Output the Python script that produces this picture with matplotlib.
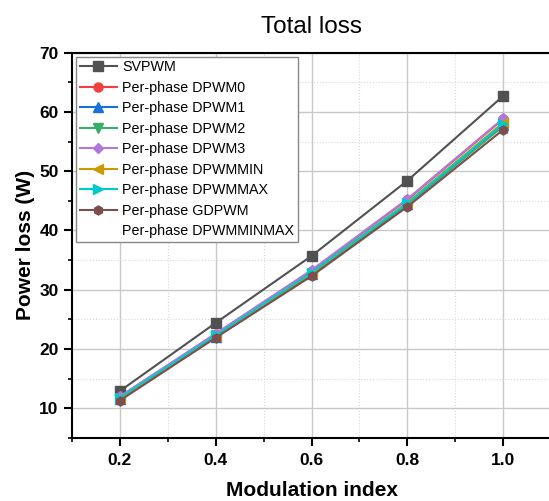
import numpy as np
import matplotlib
matplotlib.use('Agg')
import matplotlib.pyplot as plt
from matplotlib.lines import Line2D

plt.rcParams['font.family'] = ['Liberation Sans', 'DejaVu Sans']

m = [0.2, 0.4, 0.6, 0.8, 1.0]
names = ['SVPWM', 'Per-phase DPWM0', 'Per-phase DPWM1', 'Per-phase DPWM2',
         'Per-phase DPWM3', 'Per-phase DPWMMIN', 'Per-phase DPWMMAX',
         'Per-phase GDPWM']
svpwm = [12.9, 24.4, 35.7, 48.4, 62.7]
dpwm0 = [11.9, 22.5, 33.2, 45.2, 58.8]
dpwm1 = [11.6, 22.1, 32.6, 44.4, 57.8]
dpwm2 = [11.5, 22.0, 32.5, 44.3, 57.6]
dpwm3 = [12.0, 22.6, 33.3, 45.3, 58.9]
dpwmmin = [11.7, 22.2, 32.8, 44.7, 58.2]
dpwmmax = [11.8, 22.3, 32.9, 44.6, 58.0]
gdpwm = [11.3, 21.9, 32.3, 44.0, 57.0]
series = [svpwm, dpwm0, dpwm1, dpwm2, dpwm3, dpwmmin, dpwmmax, gdpwm]

colors = ['#515151', '#F14040', '#1A6FDF', '#37AD6B', '#B177DE',
          '#CC9900', '#00CBCC', '#7D4E4E']
markers = ['s', 'o', '^', 'v', 'D', '<', '>', 'h']

fig = plt.figure(figsize=(5.49, 5.01), dpi=100)
ax = fig.add_axes([0.131, 0.126, 0.873, 0.769])

for y, name, c, mk in zip(series, names, colors, markers):
    ms = 5.5 if mk == 'D' else 6.5
    ax.plot(m, y, color=c, marker=mk, markersize=ms, lw=1.5, label=name)

ax.set_xlim(0.1, 1.1)
ax.set_ylim(5, 70)
ax.set_xticks([0.2, 0.4, 0.6, 0.8, 1.0])
ax.set_xticks(np.arange(0.1, 1.11, 0.1), minor=True)
ax.set_yticks([10, 20, 30, 40, 50, 60, 70])
ax.set_yticks(np.arange(5, 71, 5), minor=True)
ax.grid(which='major', color='#c8c8c8', lw=1)
ax.grid(which='minor', color='#d8d8d8', lw=0.8, ls=':')
ax.set_axisbelow(True)

for s in ['left', 'bottom', 'top']:
    ax.spines[s].set_linewidth(1.5)
ax.spines['right'].set_visible(False)
ax.tick_params(which='major', direction='out', length=6, width=1.5,
               labelsize=12.5)
ax.tick_params(axis='x', which='major', pad=5)
ax.tick_params(which='minor', direction='out', length=3, width=1.2)
for lab in ax.get_xticklabels() + ax.get_yticklabels():
    lab.set_fontweight('bold')

ax.set_xlabel('Modulation index', fontsize=15, fontweight='bold', labelpad=9)
ax.set_ylabel('Power loss (W)', fontsize=15, fontweight='bold', labelpad=3)
ax.set_title('Total loss', fontsize=17.5, pad=14)

handles, labels = ax.get_legend_handles_labels()
handles.append(Line2D([], [], color='none'))
labels.append('Per-phase DPWMMINMAX')
leg = ax.legend(handles, labels, loc='upper left', fontsize=10.3,
                labelspacing=0.45, handlelength=2.6, handletextpad=0.35,
                borderaxespad=0.3, borderpad=0.25, fancybox=False,
                edgecolor='#888888', framealpha=1)

fig.savefig('out.png', dpi=100)
